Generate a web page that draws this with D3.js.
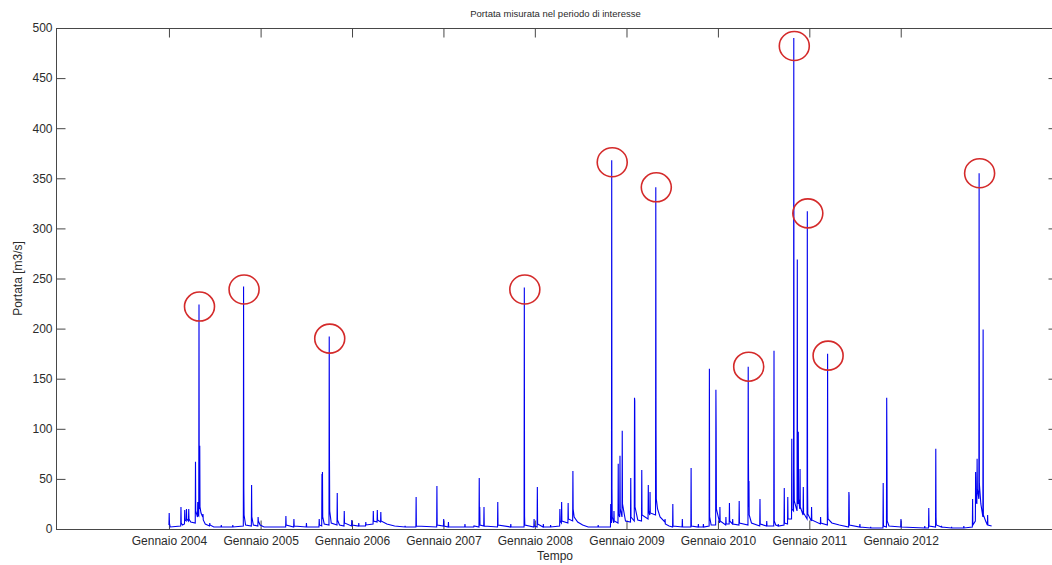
<!DOCTYPE html>
<html>
<head>
<meta charset="utf-8">
<script src="https://cdn.jsdelivr.net/npm/d3@7"></script>
<style>
  html, body { margin: 0; padding: 0; background: #fff; }
  svg { display: block; font-family: "Liberation Sans", Arial, sans-serif; }
  .tick text { fill: #2b2b2b; font-size: 12px; }
</style>
</head>
<body>
<div id="chart"></div>
<script>
// portata giornaliera [m3/s], un array per anno
const q2004 = [["2004-01-01",4],["2004-01-02",16],["2004-01-03",6],["2004-01-06",2],
  ["2004-02-17",3],["2004-02-18",22],["2004-02-19",6],["2004-02-24",4],
  ["2004-03-03",5],["2004-03-04",19],["2004-03-05",9],["2004-03-10",8],["2004-03-11",20],["2004-03-12",10],["2004-03-19",8],["2004-03-20",20],["2004-03-21",10],["2004-03-28",7],
  ["2004-04-15",6],["2004-04-16",67],["2004-04-17",18],["2004-04-24",12],["2004-04-25",27],["2004-04-26",14],["2004-04-29",13],["2004-04-30",224],["2004-05-01",30],["2004-05-02",20],["2004-05-03",83],["2004-05-04",22],["2004-05-08",16],["2004-05-15",12],["2004-05-16",15],["2004-05-17",9],["2004-05-25",5],
  ["2004-06-11",3],["2004-06-12",6],["2004-06-13",4],["2004-06-28",2],
  ["2004-07-27",2],["2004-07-28",4],["2004-07-29",2],
  ["2004-09-11",2],["2004-09-12",4],["2004-09-13",2],
  ["2004-10-24",3],["2004-10-25",242],["2004-10-26",41],["2004-10-27",14],["2004-11-02",4],
  ["2004-11-25",3],["2004-11-26",44],["2004-11-27",12],["2004-12-03",4],
  ["2004-12-21",3],["2004-12-22",12],["2004-12-23",8],["2004-12-30",4]];

const q2005 = [["2005-01-15",2],["2005-02-20",2],
  ["2005-04-11",2],["2005-04-12",13],["2005-04-13",4],
  ["2005-05-13",2],["2005-05-14",10],["2005-05-15",3],
  ["2005-07-02",2],["2005-07-03",6],["2005-07-04",2],
  ["2005-08-22",2],["2005-08-23",10],["2005-08-24",4],
  ["2005-09-02",3],["2005-09-03",55],["2005-09-04",10],["2005-09-05",57],["2005-09-06",12],["2005-09-12",5],
  ["2005-10-01",4],["2005-10-02",192],["2005-10-03",68],["2005-10-04",18],["2005-10-10",6],
  ["2005-11-02",4],["2005-11-03",36],["2005-11-04",9],["2005-11-12",4],
  ["2005-11-30",3],["2005-12-01",18],["2005-12-02",6],
  ["2005-12-30",3],["2005-12-31",9]];

const q2006 = [["2006-01-01",4],["2006-01-27",3],["2006-01-28",6],["2006-01-29",3],
  ["2006-02-24",3],["2006-02-25",7],["2006-02-26",4],
  ["2006-03-26",5],["2006-03-27",18],["2006-03-28",8],["2006-04-11",7],["2006-04-12",19],["2006-04-13",9],["2006-04-25",7],["2006-04-26",17],["2006-04-27",8],["2006-05-20",5],["2006-06-20",3],
  ["2006-07-31",2],["2006-08-01",3],["2006-08-02",2],
  ["2006-09-13",2],["2006-09-14",32],["2006-09-15",3],
  ["2006-12-05",2],["2006-12-06",43],["2006-12-07",4]];

const q2007 = [["2007-01-01",3],["2007-01-02",10],["2007-01-03",3],
  ["2007-01-20",2],["2007-01-21",7],["2007-01-22",2],
  ["2007-03-27",2],["2007-03-28",5],["2007-03-29",2],
  ["2007-05-02",2],["2007-05-03",3],
  ["2007-05-23",2],["2007-05-24",51],["2007-05-25",8],["2007-05-26",22],["2007-05-27",4],
  ["2007-06-11",3],["2007-06-12",22],["2007-06-13",3],
  ["2007-08-05",2],["2007-08-06",27],["2007-08-07",4],
  ["2007-09-26",2],["2007-09-27",5],["2007-09-28",2],
  ["2007-11-19",2],["2007-11-20",241],["2007-11-21",13],["2007-11-22",4],
  ["2007-12-28",2],["2007-12-29",10],["2007-12-30",3]];

const q2008 = [["2008-01-10",2],["2008-01-11",42],["2008-01-12",5],
  ["2008-02-03",2],["2008-02-04",5],["2008-02-05",2],
  ["2008-03-03",2],["2008-03-04",4],["2008-03-05",2],
  ["2008-04-09",3],["2008-04-10",20],["2008-04-11",8],["2008-04-16",6],["2008-04-17",27],["2008-04-18",8],
  ["2008-05-12",6],["2008-05-13",26],["2008-05-14",10],
  ["2008-05-31",8],["2008-06-01",58],["2008-06-02",20],["2008-06-06",12],["2008-06-20",7],["2008-07-10",4],["2008-08-01",2],
  ["2008-09-09",2],["2008-09-10",4],["2008-09-11",2],
  ["2008-10-29",2],["2008-10-30",25],["2008-10-31",8],["2008-11-02",6],["2008-11-03",368],["2008-11-04",40],["2008-11-05",12],
  ["2008-11-11",6],["2008-11-12",18],["2008-11-13",8],
  ["2008-11-28",6],["2008-11-29",65],["2008-11-30",15],["2008-12-05",12],["2008-12-06",73],["2008-12-07",20],
  ["2008-12-14",12],["2008-12-15",98],["2008-12-16",25],["2008-12-28",8]];

const q2009 = [["2009-01-17",7],["2009-01-18",51],["2009-01-19",12],
  ["2009-02-01",8],["2009-02-02",131],["2009-02-03",128],["2009-02-04",22],["2009-02-15",9],
  ["2009-03-02",8],["2009-03-03",59],["2009-03-04",14],
  ["2009-03-28",10],["2009-03-29",44],["2009-03-30",18],["2009-04-04",14],["2009-04-05",37],["2009-04-06",16],
  ["2009-04-27",14],["2009-04-28",341],["2009-04-29",99],["2009-04-30",30],["2009-05-05",20],["2009-05-15",12],
  ["2009-06-03",7],["2009-06-04",10],["2009-06-05",5],["2009-06-20",3],
  ["2009-07-04",2],["2009-07-05",25],["2009-07-06",3],
  ["2009-08-11",2],["2009-08-12",10],["2009-08-13",2],
  ["2009-09-15",2],["2009-09-16",61],["2009-09-17",3],
  ["2009-10-14",2],["2009-10-15",5],["2009-10-16",2],
  ["2009-11-03",2],["2009-11-04",5],["2009-11-05",2],
  ["2009-11-27",3],["2009-11-28",160],["2009-11-29",12],["2009-12-05",4],
  ["2009-12-23",4],["2009-12-24",139],["2009-12-25",98],["2009-12-26",20]];

const q2010 = [["2010-01-08",6],["2010-01-09",22],["2010-01-10",8],
  ["2010-02-01",4],["2010-02-02",12],["2010-02-03",5],
  ["2010-02-15",5],["2010-02-16",26],["2010-02-17",8],
  ["2010-02-28",5],["2010-03-01",10],["2010-03-02",5],
  ["2010-03-26",4],["2010-03-27",28],["2010-03-28",6],
  ["2010-05-01",4],["2010-05-02",162],["2010-05-03",70],["2010-05-04",22],["2010-05-05",48],["2010-05-06",14],["2010-05-15",6],
  ["2010-06-17",3],["2010-06-18",30],["2010-06-19",5],
  ["2010-07-14",3],["2010-07-15",8],["2010-07-16",3],
  ["2010-08-12",3],["2010-08-13",178],["2010-08-14",8],["2010-08-20",4],
  ["2010-08-29",3],["2010-08-30",5],["2010-08-31",3],
  ["2010-09-22",4],["2010-09-23",41],["2010-09-24",6],
  ["2010-10-06",5],["2010-10-07",32],["2010-10-08",10],
  ["2010-10-22",10],["2010-10-23",90],["2010-10-24",20],["2010-10-30",18],["2010-10-31",490],["2010-11-01",60],["2010-11-02",28],
  ["2010-11-13",18],["2010-11-14",269],["2010-11-15",40],["2010-11-17",25],["2010-11-18",97],["2010-11-19",30],
  ["2010-11-24",20],["2010-11-25",60],["2010-11-26",22],["2010-12-07",14],["2010-12-08",42],["2010-12-09",16],
  ["2010-12-23",10],["2010-12-24",317],["2010-12-25",43],["2010-12-26",15]];

const q2011 = [["2011-01-09",8],["2011-01-10",22],["2011-01-11",9],
  ["2011-02-14",5],["2011-02-15",12],["2011-02-16",6],
  ["2011-03-14",4],["2011-03-15",175],["2011-03-16",23],["2011-03-17",10],["2011-04-01",6],["2011-05-01",4],
  ["2011-06-07",2],["2011-06-08",37],["2011-06-09",33],["2011-06-10",4],
  ["2011-07-21",2],["2011-07-22",5],["2011-07-23",2],
  ["2011-09-02",1],["2011-09-03",2],["2011-09-04",1],
  ["2011-10-22",1],["2011-10-23",46],["2011-10-24",3],
  ["2011-11-05",2],["2011-11-06",131],["2011-11-07",79],["2011-11-08",8],["2011-11-15",3]];

const q2012 = [["2012-01-01",2],["2012-01-02",10],["2012-01-03",2],
  ["2012-04-05",1],["2012-04-06",3],["2012-04-07",1],
  ["2012-04-21",1],["2012-04-22",21],["2012-04-23",3],
  ["2012-05-19",2],["2012-05-20",80],["2012-05-21",12],["2012-05-22",4],
  ["2012-06-11",2],["2012-06-12",3],["2012-06-13",2],
  ["2012-07-21",1],["2012-07-22",2],["2012-07-23",1],
  ["2012-09-08",1],["2012-09-09",3],["2012-09-10",1],
  ["2012-10-13",2],["2012-10-14",30],["2012-10-15",4],
  ["2012-10-25",8],["2012-10-26",57],["2012-10-27",30],["2012-10-31",25],["2012-11-01",70],["2012-11-02",40],["2012-11-08",30],["2012-11-09",355],["2012-11-10",45],["2012-11-16",25],["2012-11-24",12],["2012-11-25",199],["2012-11-26",14],["2012-12-05",8],
  ["2012-12-12",4],["2012-12-13",14],["2012-12-14",4],["2012-12-29",3]];

// picchi cerchiati in rosso: data del picco e valore al centro del cerchio
const circledDates = ["2004-04-30","2004-10-25","2005-10-02","2007-11-20","2008-11-03","2009-04-28",
  "2010-05-02","2010-10-31","2010-12-24","2011-03-15","2012-11-09"];
const circledValues = [222, 239, 190, 239, 366, 341, 162, 482, 315, 173, 355];

const xLimits = ["2002-10-07", "2013-09-16"];
const tickYears = [2004, 2005, 2006, 2007, 2008, 2009, 2010, 2011, 2012];
const yTicks = d3.range(0, 501, 50);

const parse = d3.timeParse("%Y-%m-%d");
const series = [].concat(q2004, q2005, q2006, q2007, q2008, q2009, q2010, q2011, q2012)
  .map(([d, v]) => ({ date: parse(d), value: v }));

const W = 1052, H = 565;
const m = { left: 56, top: 28, right: 1057, bottom: 529 };

const svg = d3.select("#chart").append("svg").attr("width", W).attr("height", H);

const x = d3.scaleTime().domain(xLimits.map(parse)).range([m.left, m.right]);
const y = d3.scaleLinear().domain([0, 500]).range([m.bottom, m.top]);

const axisColor = "#474747";

// riquadro
svg.append("rect")
  .attr("x", m.left + 0.5).attr("y", m.top + 0.5)
  .attr("width", m.right - m.left).attr("height", m.bottom - m.top)
  .attr("fill", "none").attr("stroke", axisColor).attr("stroke-width", 1);

const tickDates = tickYears.map((yr) => new Date(yr, 0, 1));

const gx = svg.append("g").attr("transform", `translate(0,${m.bottom + 0.5})`)
  .call(d3.axisBottom(x).tickValues(tickDates).tickSize(-9).tickPadding(7)
    .tickFormat((d) => `Gennaio ${d.getFullYear()}`));
const gxTop = svg.append("g").attr("transform", `translate(0,${m.top + 0.5})`)
  .call(d3.axisTop(x).tickValues(tickDates).tickSize(-9).tickFormat(""));
const gy = svg.append("g").attr("transform", `translate(${m.left + 0.5},0)`)
  .call(d3.axisLeft(y).tickValues(yTicks).tickSize(-9).tickPadding(4));
const gyRight = svg.append("g").attr("transform", `translate(${m.right + 0.5},0)`)
  .call(d3.axisRight(y).tickValues(yTicks).tickSize(-9).tickFormat(""));

[gx, gxTop, gy, gyRight].forEach((g) => {
  g.select(".domain").remove();
  g.selectAll(".tick line").attr("stroke", axisColor);
});

// serie
const line = d3.line().x((d) => x(d.date)).y((d) => y(d.value));
svg.append("path")
  .datum(series)
  .attr("d", line)
  .attr("fill", "none")
  .attr("stroke", "#0000f0")
  .attr("stroke-width", 1.1)
  .attr("stroke-linejoin", "miter");

// cerchi rossi
svg.append("g").selectAll("ellipse").data(circledDates).enter().append("ellipse")
  .attr("cx", (d) => x(parse(d)) + 0.5)
  .attr("cy", (d, i) => y(circledValues[i]))
  .attr("rx", 15).attr("ry", 14.5)
  .attr("fill", "none")
  .attr("stroke", "#d42a2a")
  .attr("stroke-width", 1.6);

// testi
svg.append("text")
  .attr("x", (m.left + m.right) / 2 - 1).attr("y", 16.5)
  .attr("text-anchor", "middle").attr("font-size", 9.5).attr("fill", "#2b2b2b")
  .text("Portata misurata nel periodo di interesse");

svg.append("text")
  .attr("x", 555).attr("y", 560)
  .attr("text-anchor", "middle").attr("font-size", 12).attr("fill", "#2b2b2b")
  .text("Tempo");

svg.append("text")
  .attr("transform", `translate(22,${(m.top + m.bottom) / 2}) rotate(-90)`)
  .attr("text-anchor", "middle").attr("font-size", 12).attr("fill", "#2b2b2b")
  .text("Portata [m3/s]");
</script>
</body>
</html>
